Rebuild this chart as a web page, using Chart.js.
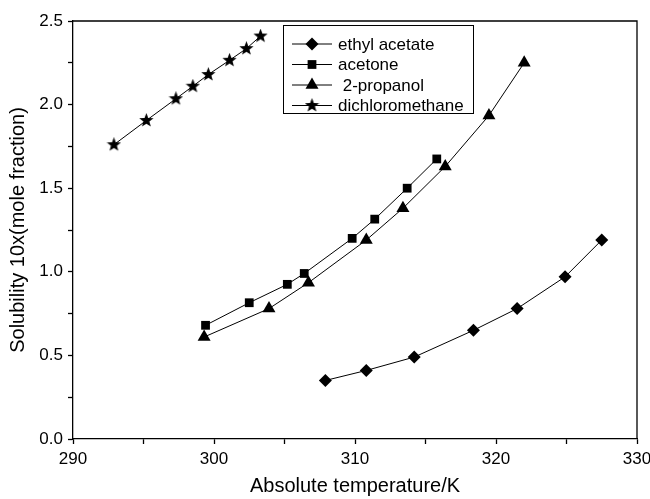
<!DOCTYPE html>
<html>
<head>
<meta charset="utf-8">
<script src="https://cdn.jsdelivr.net/npm/chart.js@4/dist/chart.umd.min.js"></script>
<style>
html,body{margin:0;padding:0;background:#fff;}
#wrap{width:650px;height:499px;}
</style>
</head>
<body>
<div id="wrap"><canvas id="c" width="650" height="499"></canvas></div>
<script>
// Data
const ethylAcetateT = [307.9, 310.8, 314.2, 318.4, 321.5, 324.9, 327.5];
const ethylAcetateX = [0.35, 0.41, 0.49, 0.65, 0.78, 0.97, 1.19];
const acetoneT = [299.4, 302.5, 305.2, 306.4, 309.8, 311.4, 313.7, 315.8];
const acetoneX = [0.68, 0.815, 0.925, 0.99, 1.20, 1.315, 1.50, 1.675];
const propanolT = [299.3, 303.9, 306.7, 310.8, 313.4, 316.4, 319.5, 322.0];
const propanolX = [0.61, 0.78, 0.935, 1.19, 1.38, 1.63, 1.935, 2.25];
const dcmT = [292.9, 295.2, 297.3, 298.5, 299.6, 301.1, 302.3, 303.3];
const dcmX = [1.76, 1.905, 2.035, 2.11, 2.18, 2.265, 2.335, 2.41];
const seriesNames = ['ethyl acetate', 'acetone', ' 2-propanol', 'dichloromethane'];
const xTickLabels = [290, 300, 310, 320, 330];
const yTickLabels = [0.0, 0.5, 1.0, 1.5, 2.0, 2.5];

function pts(xs, ys){ return xs.map((x,i)=>({x:x, y:ys[i]})); }

// filled five-point star marker
function makeStar(size){
  const cv = document.createElement('canvas');
  cv.width = size; cv.height = size;
  const g = cv.getContext('2d');
  const cx = size/2, cy = size/2, ro = size/2, ri = ro*0.42;
  g.beginPath();
  for(let i=0;i<10;i++){
    const r = i%2===0 ? ro : ri;
    const a = -Math.PI/2 + i*Math.PI/5;
    const px = cx + r*Math.cos(a), py = cy + r*Math.sin(a);
    if(i===0) g.moveTo(px,py); else g.lineTo(px,py);
  }
  g.closePath();
  g.fillStyle = '#000';
  g.fill();
  return cv;
}
const starImg = makeStar(15);

const FONT = '"Liberation Sans", Arial, Helvetica, sans-serif';

const styles = [
  {pointStyle:'rectRot', radius:6.5},
  {pointStyle:'rect', radius:6.2},
  {pointStyle:'triangle', radius:7.5},
  {pointStyle:starImg, radius:7}
];

const datasets = [
  pts(ethylAcetateT, ethylAcetateX),
  pts(acetoneT, acetoneX),
  pts(propanolT, propanolX),
  pts(dcmT, dcmX)
].map((d,i)=>({
  label: seriesNames[i],
  data: d,
  borderColor:'#000',
  backgroundColor:'#000',
  borderWidth:1,
  pointBorderWidth:0,
  pointStyle: styles[i].pointStyle,
  pointRadius: styles[i].radius,
  pointBackgroundColor:'#000',
  pointBorderColor:'#000',
  tension:0,
  fill:false
}));

const framePlugin = {
  id:'frame',
  afterDraw(chart){
    const a = chart.chartArea, ctx = chart.ctx;
    ctx.save();
    ctx.strokeStyle = '#000';
    ctx.lineWidth = 1.3;
    ctx.beginPath();
    ctx.moveTo(a.left, a.top);
    ctx.lineTo(a.right, a.top);
    ctx.lineTo(a.right, a.bottom);
    ctx.stroke();
    ctx.restore();
  }
};

const legendPlugin = {
  id:'boxLegend',
  afterDraw(chart){
    const ctx = chart.ctx;
    ctx.save();
    ctx.fillStyle = '#fff';
    ctx.fillRect(283.5, 25.5, 190, 88);
    ctx.strokeStyle = '#000';
    ctx.lineWidth = 1;
    ctx.strokeRect(283.5, 25.5, 190, 88);
    const rows = [44, 64.5, 85, 105.5];
    chart.data.datasets.forEach((ds,i)=>{
      const y = rows[i];
      ctx.strokeStyle = '#000';
      ctx.lineWidth = 1;
      ctx.beginPath();
      ctx.moveTo(292, y); ctx.lineTo(332, y);
      ctx.stroke();
      ctx.fillStyle = '#000';
      Chart.helpers.drawPoint(ctx, {pointStyle: ds.pointStyle, radius: ds.pointRadius, borderWidth: 0, rotation:0}, 312, y);
      ctx.fillStyle = '#000';
      ctx.font = '17px ' + FONT;
      ctx.textBaseline = 'middle';
      ctx.textAlign = 'left';
      ctx.fillText(ds.label, 338, y + 1);
    });
    ctx.restore();
  }
};

new Chart(document.getElementById('c'), {
  type:'line',
  data:{datasets},
  options:{
    responsive:false,
    animation:false,
    devicePixelRatio:1,
    layout:{padding:{top:21, right:13, left:0, bottom:0}},
    plugins:{legend:{display:false}, tooltip:{enabled:false}},
    scales:{
      x:{
        type:'linear', min:290, max:330,
        afterFit(s){ s.height = 60; s.paddingRight = 0; s.paddingLeft = 0; },
        ticks:{
          stepSize:5, autoSkip:false, maxRotation:0, padding:5,
          color:'#000', font:{family:FONT, size:17},
          callback(v){ return xTickLabels.includes(v) ? String(v) : ''; }
        },
        grid:{drawOnChartArea:false, drawTicks:true, tickLength:5, color:'#000', tickWidth:1.3},
        border:{display:true, color:'#000', width:1.3},
        title:{display:true, text:'Absolute temperature/K', color:'#000', font:{family:FONT, size:20}, padding:{top:4, bottom:1}}
      },
      y:{
        type:'linear', min:0, max:2.5,
        afterFit(s){ s.width = 73; s.paddingTop = 0; s.paddingBottom = 0; },
        ticks:{
          stepSize:0.25, autoSkip:false, padding:5,
          color:'#000', font:{family:FONT, size:17},
          callback(v){
            const hit = yTickLabels.find(t=>Math.abs(t-v)<1e-6);
            return hit!==undefined ? hit.toFixed(1) : '';
          }
        },
        grid:{drawOnChartArea:false, drawTicks:true, tickLength:5, color:'#000', tickWidth:1.3},
        border:{display:true, color:'#000', width:1.3},
        title:{display:true, text:'Solubility 10x(mole fraction)', color:'#000', font:{family:FONT, size:20}, padding:{top:6, bottom:4}}
      }
    }
  },
  plugins:[framePlugin, legendPlugin]
});
</script>
</body>
</html>
